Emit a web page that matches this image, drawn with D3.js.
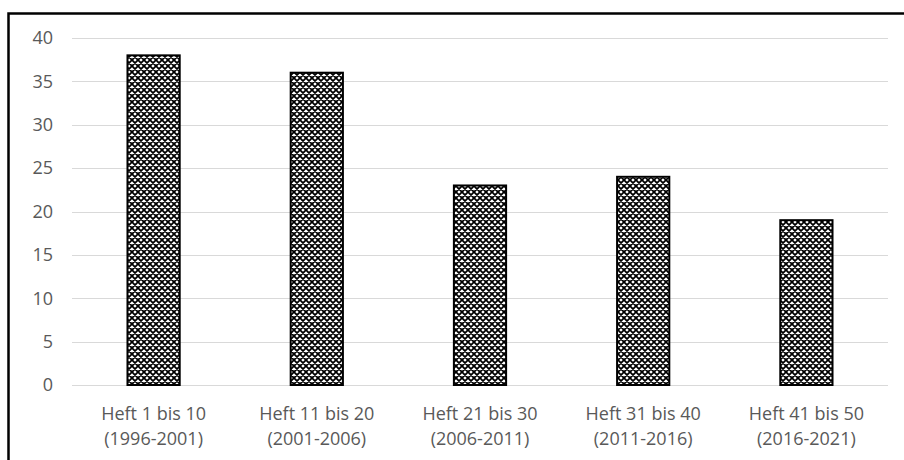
<!DOCTYPE html>
<html>
<head>
<meta charset="utf-8">
<script src="https://cdn.jsdelivr.net/npm/d3@7"></script>
<style>
  html, body { margin: 0; padding: 0; background: #fff; }
  svg { display: block; }
</style>
</head>
<body>
<svg id="chart" width="904" height="460"></svg>
<script>
// Issues per ten-number block of the magazine
const categories = [
  ["Heft 1 bis 10", "(1996-2001)"],
  ["Heft 11 bis 20", "(2001-2006)"],
  ["Heft 21 bis 30", "(2006-2011)"],
  ["Heft 31 bis 40", "(2011-2016)"],
  ["Heft 41 bis 50", "(2016-2021)"]
];
const values = [38, 36, 23, 24, 19];
const yTicks = [0, 5, 10, 15, 20, 25, 30, 35, 40];

const svg = d3.select("#chart");
const font = "'Open Sans', 'Liberation Sans', sans-serif";

// Cross-hatch fill for the bars
const defs = svg.append("defs");
const pat = defs.append("pattern")
  .attr("id", "hatch")
  .attr("patternUnits", "userSpaceOnUse")
  .attr("width", 6).attr("height", 6);
pat.append("rect").attr("width", 6).attr("height", 6).attr("fill", "#fff");
pat.append("path")
  .attr("d", "M-1,1 L1,-1 M0,6 L6,0 M5,7 L7,5 M-1,5 L1,7 M0,0 L6,6 M5,-1 L7,1")
  .attr("stroke", "#000").attr("stroke-width", 1.75);

const x = d3.scaleBand()
  .domain(d3.range(categories.length))
  .range([72, 888])
  .paddingInner(0.68)
  .paddingOuter(0.34);

const y = d3.scaleLinear().domain([0, 40]).range([385, 38]);

// Frame
svg.append("rect")
  .attr("x", 8.5).attr("y", 13.5)
  .attr("width", 1000).attr("height", 1000)
  .attr("fill", "none").attr("stroke", "#000").attr("stroke-width", 2.5);

// Gridlines
svg.append("g").selectAll("line").data(yTicks).join("line")
  .attr("x1", 72).attr("x2", 888)
  .attr("y1", d => Math.round(y(d)) + 0.5)
  .attr("y2", d => Math.round(y(d)) + 0.5)
  .attr("stroke", "#d9d9d9").attr("stroke-width", 1);

// Y axis labels
const yAxis = d3.axisLeft(y).tickValues(yTicks).tickSize(0).tickPadding(0);
const gy = svg.append("g").attr("transform", "translate(53,0)").call(yAxis);
gy.select(".domain").remove();
gy.attr("font-size", null).attr("font-family", null);
gy.selectAll("text")
  .attr("fill", "#595959")
  .style("font-family", font).style("font-size", "18px");

// Bars
svg.append("g").selectAll("rect").data(values).join("rect")
  .attr("x", (d, i) => x(i))
  .attr("y", d => y(d))
  .attr("width", x.bandwidth())
  .attr("height", d => y(0) - y(d))
  .attr("fill", "url(#hatch)")
  .attr("stroke", "#000").attr("stroke-width", 2);

// Category labels (two lines)
const xl = svg.append("g").selectAll("text").data(categories).join("text")
  .attr("x", (d, i) => x(i) + x.bandwidth() / 2)
  .attr("y", 420)
  .attr("text-anchor", "middle")
  .attr("fill", "#595959")
  .style("font-family", font).style("font-size", "18px");
xl.append("tspan").attr("x", (d, i) => x(i) + x.bandwidth() / 2).text(d => d[0]);
xl.append("tspan").attr("x", (d, i) => x(i) + x.bandwidth() / 2).attr("dy", 25).text(d => d[1]);
</script>
</body>
</html>
